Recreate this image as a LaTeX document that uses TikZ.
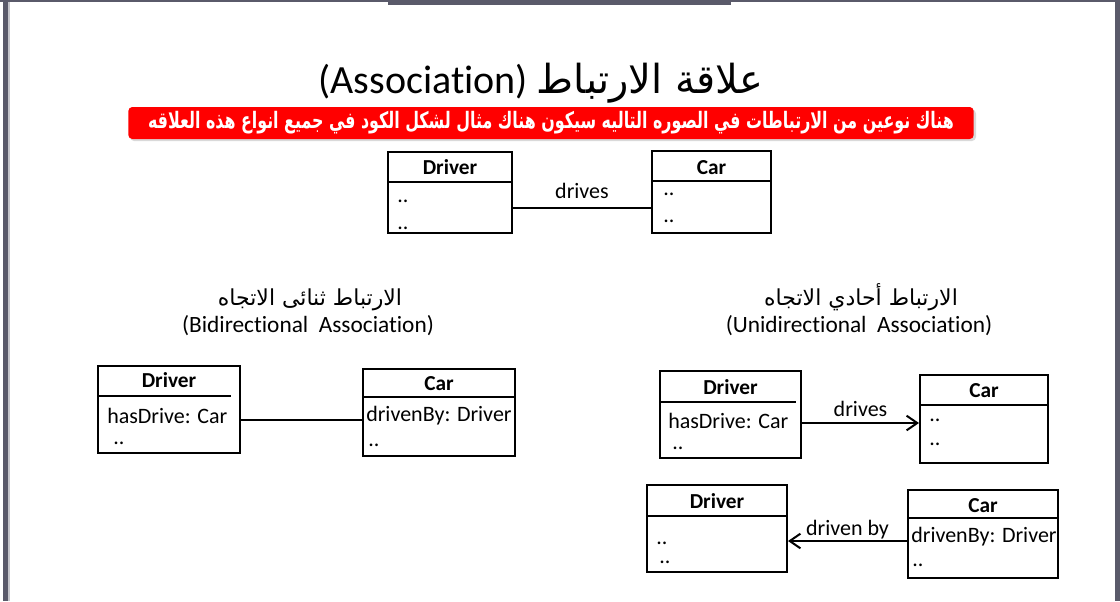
\documentclass[tikz,border=0pt]{standalone}
\usepackage{fontspec}
\setmainfont[Ligatures={NoCommon}]{Carlito}
\newfontfamily\arabicfont[Script=Arabic]{DejaVu Sans}
\newfontfamily\bannerfont[Script=Arabic,FakeStretch=0.7]{DejaVu Sans}
\TeXXeTstate=1
\usetikzlibrary{arrows.meta,calc,fit}
\definecolor{fgray}{RGB}{90,90,106}
\definecolor{bred}{RGB}{255,0,0}
\tikzset{
  cls/.style   ={rectangle, draw=black, line width=1.5pt, fill=white, inner sep=0pt},
  head/.style  ={anchor=base, inner sep=0pt, font=\fontsize{16}{18}\selectfont\bfseries},
  attr/.style  ={anchor=base west, inner sep=0pt, font=\fontsize{16.5}{19}\selectfont},
  sep/.style   ={line width=1.5pt},
  link/.style  ={line width=1.5pt},
  nav/.style   ={link, -{Straight Barb[length=8pt,width=11pt]}},
  lbl/.style   ={midway, anchor=base, inner sep=0pt, font=\fontsize{16.5}{19}\selectfont},
  ttl/.style   ={anchor=base, inner sep=0pt, font=\fontsize{30}{34}\selectfont},
  subar/.style ={anchor=base, inner sep=0pt, font=\arabicfont\fontsize{16.5}{19}\selectfont},
  suben/.style ={anchor=base, inner sep=0pt, font=\fontsize{17.5}{20}\selectfont},
  banner/.style={rectangle, rounded corners=3pt, fill=bred, text=white, inner sep=0pt,
                 minimum width=634pt, minimum height=24pt,
                 font=\bannerfont\bfseries\fontsize{17}{20}\selectfont}
}
\begin{document}
\begin{tikzpicture}[x=0.75pt,y=-0.75pt]
\useasboundingbox (0,0) rectangle (1120,601);
% slide frame
\fill[fgray] (0,0) rectangle (1120,2);
\fill[fgray] (388,0) rectangle (731,5);
\fill[fgray] (3,0) rectangle (8,601);
\fill[fgray!35] (8,2) rectangle (9.5,601);
\fill[fgray] (1115,0) rectangle (1120,601);

% heading
\node[ttl] (title) at (541,93) {(Association) {\arabicfont\beginR علاقة الارتباط\endR}};
\fill[black!15, rounded corners=3pt] (130,109.5) rectangle (976,141);
\node[banner] (note) at (551,123)
  {\beginR هناك نوعين من الارتباطات في الصوره التاليه سيكون هناك مثال لشكل الكود في جميع انواع هذه العلاقه\endR};

% plain association
\node[cls, fit={(388,152)(512,233)}] (drvA) {};
\node[head] (drvAt) at ($(drvA.north)+(0,23)$) {Driver};
\draw[sep] ($(drvA.north west)+(0,31)$) -- ($(drvA.north east)+(0,31)$);
\node[attr] (drvA1) at (397,202) {..};
\node[attr] (drvA2) at (397,229) {..};
\node[cls, fit={(652,151)(771,233)}] (carA) {};
\node[head] (carAt) at ($(carA.north)+(0,24)$) {Car};
\draw[sep] ($(carA.north west)+(0,31)$) -- ($(carA.north east)+(0,31)$);
\node[attr] (carA1) at (663,195) {..};
\node[attr] (carA2) at (663,222) {..};
\coordinate (rowA) at (0,208);
\draw[link] (drvA.east |- rowA) -- node[lbl, yshift=7.5pt] (drvAl) {drives} (carA.west |- rowA);

% bidirectional
\node[subar] (biAr) at (310,305) {\beginR الارتباط ثنائى الاتجاه\endR};
\node[suben] (biEn) at (308,332) {(Bidirectional\ \ Association)};
\node[cls, fit={(98,366)(240,453)}] (drvB) {};
\node[head] (drvBt) at ($(drvB.north)+(0,22)$) {Driver};
\draw[sep] ($(drvB.north west)+(0,31)$) -- ($(drvB.north east)+(-10,31)$);
\node[attr] (drvB1) at (107,423) {hasDrive: Car};
\node[attr] (drvB2) at (113,444) {..};
\node[cls, fit={(363,369)(515,456)}] (carB) {};
\node[head] (carBt) at ($(carB.north)+(0,22)$) {Car};
\draw[sep] ($(carB.north west)+(0,29)$) -- ($(carB.north east)+(0,29)$);
\node[attr] (carB1) at (366,421) {drivenBy: Driver};
\node[attr] (carB2) at (368,446) {..};
\coordinate (rowB) at (0,420);
\draw[link] (drvB.east |- rowB) -- (carB.west |- rowB);

% unidirectional
\node[subar] (uniAr) at (861,305) {\beginR الارتباط أحادي الاتجاه\endR};
\node[suben] (uniEn) at (859,332) {(Unidirectional\ \ Association)};
\node[cls, fit={(660,371)(801,458)}] (drvC) {};
\node[head] (drvCt) at ($(drvC.north)+(0,24)$) {Driver};
\draw[sep] ($(drvC.north west)+(0,32)$) -- ($(drvC.north east)+(-6,32)$);
\node[attr] (drvC1) at (668,428) {hasDrive: Car};
\node[attr] (drvC2) at (672,449) {..};
\node[cls, fit={(920,375)(1048,463)}] (carC) {};
\node[head] (carCt) at ($(carC.north)+(0,23)$) {Car};
\draw[sep] ($(carC.north west)+(0,31)$) -- ($(carC.north east)+(0,31)$);
\node[attr] (carC1) at (929,421) {..};
\node[attr] (carC2) at (929,445) {..};
\coordinate (rowC) at (0,423);
\draw[nav] (drvC.east |- rowC) -- node[lbl, yshift=5.25pt] (drvCl) {drives} (carC.west |- rowC);

\node[cls, fit={(647,485)(787,572)}] (drvD) {};
\node[head] (drvDt) at ($(drvD.north)+(0,24)$) {Driver};
\draw[sep] ($(drvD.north west)+(0,32)$) -- ($(drvD.north east)+(0,32)$);
\node[attr] (drvD1) at (656,544) {..};
\node[attr] (drvD2) at (659,563) {..};
\node[cls, fit={(908,490)(1058,578)}] (carD) {};
\node[head] (carDt) at ($(carD.north)+(0,23)$) {Car};
\draw[sep] ($(carD.north west)+(0,29)$) -- ($(carD.north east)+(0,29)$);
\node[attr] (carD1) at (911,542) {drivenBy: Driver};
\node[attr] (carD2) at (912,566) {..};
\coordinate (rowD) at (0,541);
\draw[nav] (carD.west |- rowD) -- node[lbl, yshift=4.5pt] (carDl) {driven by} (drvD.east |- rowD);
\end{tikzpicture}
\end{document}
